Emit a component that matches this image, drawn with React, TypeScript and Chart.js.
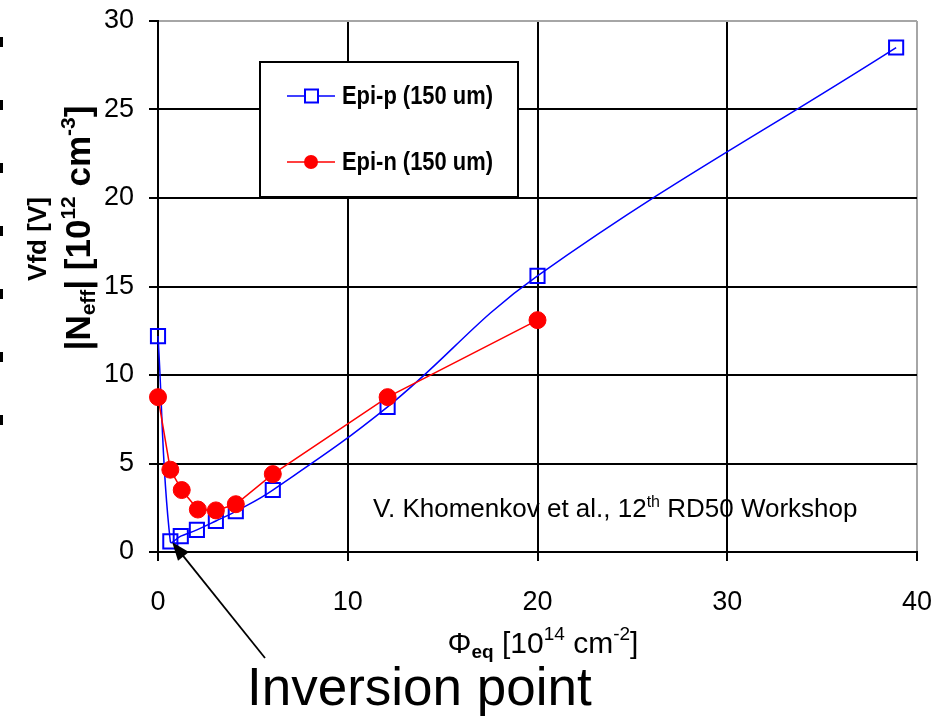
import React, { useEffect, useRef } from 'react';
import { Chart, registerables } from 'chart.js';

Chart.register(...registerables);

// ---- data ----
const xTickValues = [0, 10, 20, 30, 40];
const yTickValues = [0, 5, 10, 15, 20, 25, 30];

const epiPFluence = [0, 0.65, 1.2, 2.05, 3.05, 4.1, 6.05, 12.1, 20, 38.9];
const epiPValues = [12.2, 0.6, 0.9, 1.25, 1.75, 2.3, 3.5, 8.2, 15.6, 28.5];

const epiNFluence = [0, 0.65, 1.25, 2.1, 3.05, 4.1, 6.05, 12.1, 20];
const epiNValues = [8.75, 4.65, 3.5, 2.4, 2.35, 2.7, 4.4, 8.75, 13.1];

const seriesNames = ['Epi-p (150 um)', 'Epi-n (150 um)'];
const sourceNote = ['V. Khomenkov et al., 12', 'th', ' RD50 Workshop'];
const calloutText = 'Inversion point';
const inversionPoint = [0.75, 0.55];

const SANS = '"Liberation Sans", Arial, sans-serif';
const NARROW = '"Liberation Sans Narrow", "Arial Narrow", "Liberation Sans", sans-serif';

type Run = { t: string; font: string; dy?: number };

function runsWidth(ctx: CanvasRenderingContext2D, runs: Run[]) {
  let w = 0;
  for (const r of runs) {
    ctx.font = r.font;
    w += ctx.measureText(r.t).width;
  }
  return w;
}

function drawRuns(ctx: CanvasRenderingContext2D, runs: Run[], x: number, y: number, align: 'left' | 'center') {
  const w = runsWidth(ctx, runs);
  let cx = align === 'center' ? x - w / 2 : x;
  ctx.textAlign = 'left';
  ctx.textBaseline = 'alphabetic';
  for (const r of runs) {
    ctx.font = r.font;
    ctx.fillText(r.t, cx, y + (r.dy || 0));
    cx += ctx.measureText(r.t).width;
  }
}

const overlayPlugin = {
  id: 'overlay',
  beforeDraw(chart: any) {
    const ctx: CanvasRenderingContext2D = chart.ctx;
    ctx.save();
    // left edge dashed artifact
    ctx.strokeStyle = '#000';
    ctx.lineWidth = 3;
    ctx.setLineDash([10, 53]);
    ctx.beginPath();
    ctx.moveTo(1.5, 37);
    ctx.lineTo(1.5, 440);
    ctx.stroke();
    ctx.setLineDash([]);
    // source note (under the grid)
    ctx.fillStyle = '#000';
    drawRuns(ctx, [
      { t: sourceNote[0], font: `26px ${SANS}` },
      { t: sourceNote[1], font: `16px ${SANS}`, dy: -10 },
      { t: sourceNote[2], font: `26px ${SANS}` },
    ], 373, 517, 'left');
    ctx.restore();
  },
  afterDraw(chart: any) {
    const ctx: CanvasRenderingContext2D = chart.ctx;
    const xs = chart.scales.x;
    const ys = chart.scales.y;
    ctx.save();

    // legend
    const lx = 260, ly = 62, lw = 258, lh = 135;
    ctx.fillStyle = '#fff';
    ctx.fillRect(lx, ly, lw, lh);
    ctx.strokeStyle = '#000';
    ctx.lineWidth = 2;
    ctx.strokeRect(lx, ly, lw, lh);
    const rows = [96, 162];
    const colors = ['#0000ff', '#ff0000'];
    rows.forEach((ry, i) => {
      ctx.strokeStyle = colors[i];
      ctx.lineWidth = 1.5;
      ctx.beginPath();
      ctx.moveTo(287, ry);
      ctx.lineTo(335, ry);
      ctx.stroke();
      if (i === 0) {
        ctx.fillStyle = '#fff';
        ctx.fillRect(305, ry - 6.5, 13, 13);
        ctx.lineWidth = 2;
        ctx.strokeRect(305, ry - 6.5, 13, 13);
      } else {
        ctx.fillStyle = colors[i];
        ctx.beginPath();
        ctx.arc(311, ry, 7, 0, Math.PI * 2);
        ctx.fill();
      }
      ctx.fillStyle = '#000';
      ctx.font = `bold 26px ${NARROW}`;
      ctx.textAlign = 'left';
      ctx.textBaseline = 'alphabetic';
      const m = ctx.measureText(seriesNames[i]).width;
      const target = 151;
      ctx.save();
      ctx.translate(342, ry + 8);
      if (m > target * 1.05) ctx.scale(target / m, 1);
      ctx.fillText(seriesNames[i], 0, 0);
      ctx.restore();
    });

    // x axis title
    ctx.fillStyle = '#000';
    drawRuns(ctx, [
      { t: 'Φ', font: `30px ${SANS}` },
      { t: 'eq', font: `bold 19px ${SANS}`, dy: 5 },
      { t: ' [10', font: `30px ${SANS}` },
      { t: '14', font: `19px ${SANS}`, dy: -13 },
      { t: ' cm', font: `30px ${SANS}` },
      { t: '-2', font: `19px ${SANS}`, dy: -13 },
      { t: ']', font: `30px ${SANS}` },
    ], 543, 653, 'center');

    // y axis titles (rotated)
    ctx.save();
    ctx.translate(46, 239);
    ctx.rotate(-Math.PI / 2);
    drawRuns(ctx, [{ t: 'Vfd [V]', font: `bold 26px ${SANS}` }], 0, 0, 'center');
    ctx.restore();

    ctx.save();
    ctx.translate(90, 228);
    ctx.rotate(-Math.PI / 2);
    drawRuns(ctx, [
      { t: '|N', font: `bold 35px ${SANS}` },
      { t: 'eff', font: `bold 21px ${SANS}`, dy: 5 },
      { t: '| [10', font: `bold 35px ${SANS}` },
      { t: '12', font: `bold 21px ${SANS}`, dy: -15 },
      { t: ' cm', font: `bold 35px ${SANS}` },
      { t: '-3', font: `bold 21px ${SANS}`, dy: -15 },
      { t: ']', font: `bold 35px ${SANS}` },
    ], 0, 0, 'center');
    ctx.restore();

    // arrow to inversion point
    const tx = xs.getPixelForValue(inversionPoint[0]);
    const ty = ys.getPixelForValue(inversionPoint[1]);
    const sx = 265, sy = 658;
    const ang = Math.atan2(ty - sy, tx - sx);
    ctx.strokeStyle = '#000';
    ctx.fillStyle = '#000';
    ctx.lineWidth = 1.8;
    ctx.beginPath();
    ctx.moveTo(sx, sy);
    ctx.lineTo(tx - 12 * Math.cos(ang), ty - 12 * Math.sin(ang));
    ctx.stroke();
    const hl = 18, hw = 7;
    const bx = tx - hl * Math.cos(ang), by = ty - hl * Math.sin(ang);
    ctx.beginPath();
    ctx.moveTo(tx, ty);
    ctx.lineTo(bx + hw * Math.sin(ang), by - hw * Math.cos(ang));
    ctx.lineTo(bx - hw * Math.sin(ang), by + hw * Math.cos(ang));
    ctx.closePath();
    ctx.fill();

    // callout text
    ctx.font = `53px ${SANS}`;
    ctx.textAlign = 'left';
    ctx.textBaseline = 'alphabetic';
    ctx.fillText(calloutText, 247, 705);

    ctx.restore();
  },
};

export default function App() {
  const ref = useRef<HTMLCanvasElement | null>(null);

  useEffect(() => {
    if (!ref.current) return;
    const gridColor = (lastValue: number) => (c: any) =>
      c.tick && c.tick.value === lastValue ? '#a6a6a6' : '#000';
    const zeroPad = (s: any) => {
      s.paddingTop = 0;
      s.paddingBottom = 0;
      s.paddingLeft = 0;
      s.paddingRight = 0;
    };
    const chart = new Chart(ref.current, {
      type: 'line',
      data: {
        datasets: [
          {
            label: seriesNames[0],
            data: epiPFluence.map((x, i) => ({ x, y: epiPValues[i] })),
            borderColor: '#0000ff',
            borderWidth: 1.5,
            pointStyle: 'rect',
            pointRadius: 10,
            pointBorderWidth: 2,
            pointBorderColor: '#0000ff',
            pointBackgroundColor: 'rgba(0,0,0,0)',
            tension: 0.4,
            fill: false,
            clip: false,
            order: 2,
          },
          {
            label: seriesNames[1],
            data: epiNFluence.map((x, i) => ({ x, y: epiNValues[i] })),
            borderColor: '#ff0000',
            borderWidth: 1.5,
            pointStyle: 'circle',
            pointRadius: 8.5,
            pointBorderWidth: 1,
            pointBorderColor: '#ff0000',
            pointBackgroundColor: '#ff0000',
            tension: 0,
            fill: false,
            clip: false,
            order: 1,
          },
        ],
      },
      options: {
        animation: false,
        responsive: false,
        maintainAspectRatio: false,
        devicePixelRatio: 1,
        layout: { padding: { top: 21, right: 27, left: 0, bottom: 0 } },
        plugins: { legend: { display: false }, tooltip: { enabled: false } },
        scales: {
          x: {
            type: 'linear',
            min: 0,
            max: 40,
            afterBuildTicks: (s: any) => {
              s.ticks = xTickValues.map((v) => ({ value: v }));
            },
            afterFit: (s: any) => {
              s.height = 165;
              zeroPad(s);
            },
            ticks: {
              color: '#000',
              font: { family: SANS, size: 27 },
              padding: 25,
              maxRotation: 0,
              autoSkip: false,
            },
            grid: {
              color: gridColor(40),
              lineWidth: 2,
              tickLength: 9,
              tickColor: '#000',
            },
            border: { color: '#000', width: 2 },
          },
          y: {
            type: 'linear',
            min: 0,
            max: 30,
            afterBuildTicks: (s: any) => {
              s.ticks = yTickValues.map((v) => ({ value: v }));
            },
            afterFit: (s: any) => {
              s.width = 158;
              zeroPad(s);
            },
            ticks: {
              color: '#000',
              font: { family: SANS, size: 27 },
              padding: 15,
              autoSkip: false,
            },
            grid: {
              color: gridColor(30),
              lineWidth: 2,
              tickLength: 9,
              tickColor: '#000',
            },
            border: { color: '#000', width: 2 },
          },
        },
      },
      plugins: [overlayPlugin],
    } as any);
    return () => chart.destroy();
  }, []);

  return (
    <div style={{ position: 'absolute', left: 0, top: 0, width: 944, height: 717, background: '#fff' }}>
      <canvas ref={ref} width={944} height={717} style={{ display: 'block', width: 944, height: 717 }} />
    </div>
  );
}
